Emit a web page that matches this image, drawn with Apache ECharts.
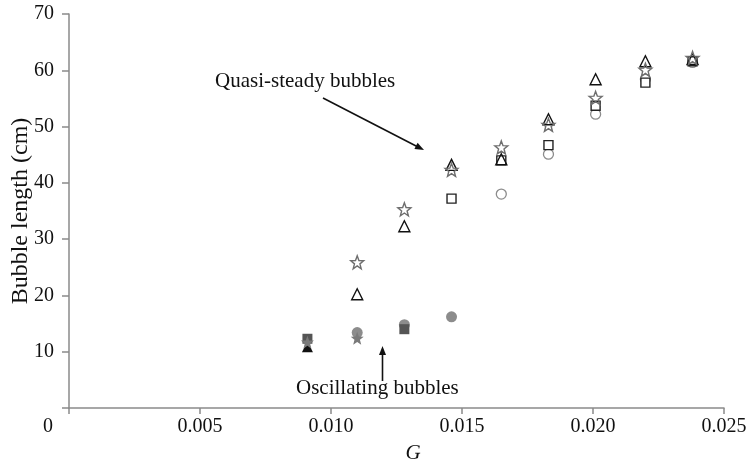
<!DOCTYPE html>
<html>
<head>
<meta charset="utf-8">
<script src="https://cdn.jsdelivr.net/npm/echarts@6/dist/echarts.min.js"></script>
<style>
html,body{margin:0;padding:0;background:#fff;}
#chart{width:747px;height:462px;}
</style>
</head>
<body>
<div id="chart"></div>
<script>
// Data (G, bubble length cm)
var oscTriangle = [[0.0091, 10.9]];
var oscStar = [[0.0091, 11.7], [0.0110, 12.4]];
var oscSquare = [[0.0091, 12.3], [0.0128, 14.0]];
var oscCircle = [[0.0110, 13.4], [0.0128, 14.8], [0.0146, 16.2]];

var qsTriangle = [[0.0110, 20.2], [0.0128, 32.3], [0.0146, 43.2], [0.0165, 44.2], [0.0183, 51.3], [0.0201, 58.4], [0.0220, 61.6], [0.0238, 62.0]];
var qsStar = [[0.0110, 25.9], [0.0128, 35.3], [0.0146, 42.3], [0.0165, 46.3], [0.0183, 50.3], [0.0201, 55.1], [0.0220, 60.1], [0.0238, 62.2]];
var qsSquare = [[0.0146, 37.2], [0.0165, 44.0], [0.0183, 46.7], [0.0201, 53.7], [0.0220, 57.8], [0.0238, 61.6]];
var qsCircle = [[0.0165, 38.0], [0.0183, 45.1], [0.0201, 52.2], [0.0220, 58.4], [0.0238, 61.4]];

var xTicks = ['0', '0.005', '0.010', '0.015', '0.020', '0.025'];
var yTicks = ['0', '10', '20', '30', '40', '50', '60', '70'];

var STAR = 'path://M100,0 L124.7,66 L195.1,69.1 L139.9,113 L158.8,180.9 L100,142 L41.2,180.9 L60.1,113 L4.9,69.1 L75.3,66 Z';
var FONT = 'Liberation Serif';
var AXIS = '#8a8a8a';

function sc(name, data, symbol, size, fill, stroke, bw) {
  return {
    name: name, type: 'scatter', data: data, symbol: symbol, symbolSize: size,
    itemStyle: { color: fill, borderColor: stroke, borderWidth: bw, opacity: 1 },
    emphasis: { disabled: true }, z: 3
  };
}

var chart = echarts.init(document.getElementById('chart'), null, { renderer: 'canvas' });
chart.setOption({
  animation: false,
  backgroundColor: '#ffffff',
  grid: { left: 69, right: 23, top: 14, bottom: 54, containLabel: false, outerBoundsMode: 'none' },
  xAxis: {
    type: 'value', min: 0, max: 0.025, interval: 0.005,
    name: 'G', nameLocation: 'middle', nameGap: 35, nameMoveOverlap: false,
    nameTextStyle: { fontFamily: FONT, fontStyle: 'italic', fontSize: 21, color: '#111', padding: [0, 0, 0, 33] },
    axisLine: { show: true, onZero: false, lineStyle: { color: AXIS, width: 1.5 } },
    axisTick: { show: true, length: 6, lineStyle: { color: AXIS, width: 1.5 } },
    axisLabel: {
      fontFamily: FONT, fontSize: 20, color: '#111', margin: 9,
      formatter: function (v) { var i = Math.round(v / 0.005); return i === 0 ? '' : xTicks[i]; }
    },
    splitLine: { show: false }
  },
  yAxis: {
    type: 'value', min: 0, max: 70, interval: 10,
    name: 'Bubble length (cm)', nameLocation: 'middle', nameGap: 36, nameMoveOverlap: false,
    nameTextStyle: { fontFamily: FONT, fontSize: 24, color: '#111' },
    axisLine: { show: true, lineStyle: { color: AXIS, width: 1.5 } },
    axisTick: { show: true, length: 7, lineStyle: { color: AXIS, width: 1.5 } },
    axisLabel: {
      fontFamily: FONT, fontSize: 20, color: '#111', margin: 15,
      formatter: function (v) { var i = Math.round(v / 10); return i === 0 ? '' : yTicks[i]; }
    },
    splitLine: { show: false }
  },
  series: [
    sc('Quasi-steady circle', qsCircle, 'circle', 10, '#ffffff', '#8c8c8c', 1.3),
    sc('Quasi-steady square', qsSquare, 'rect', 9, '#ffffff', '#222222', 1.4),
    sc('Quasi-steady triangle', qsTriangle, 'triangle', 11, 'rgba(255,255,255,0)', '#111111', 1.4),
    sc('Quasi-steady star', qsStar, STAR, 13, 'rgba(255,255,255,0)', '#6e6e6e', 1.4),
    sc('Oscillating circle', oscCircle, 'circle', 11, '#8c8c8c', '#8c8c8c', 0),
    sc('Oscillating square', oscSquare, 'rect', 10, '#555555', '#555555', 0),
    sc('Oscillating triangle', oscTriangle, 'triangle', 11, '#111111', '#111111', 0),
    sc('Oscillating star', oscStar, STAR, 13, '#7a7a7a', '#7a7a7a', 0)
  ],
  graphic: [
    { type: 'text', left: 43, top: 417, style: { text: '0', font: '20px "Liberation Serif"', fill: '#111' } },
    { type: 'text', x: 215, y: 81, style: { text: 'Quasi-steady bubbles', font: '21px "Liberation Serif"', fill: '#111', textVerticalAlign: 'middle' } },
    { type: 'line', shape: { x1: 323, y1: 98, x2: 418, y2: 147 }, style: { stroke: '#111', lineWidth: 1.6 } },
    { type: 'polygon', shape: { points: [[424, 150], [414.4, 149], [417.6, 142.8]] }, style: { fill: '#111' } },
    { type: 'text', x: 296, y: 388, style: { text: 'Oscillating bubbles', font: '21px "Liberation Serif"', fill: '#111', textVerticalAlign: 'middle' } },
    { type: 'line', shape: { x1: 382.5, y1: 381, x2: 382.5, y2: 353 }, style: { stroke: '#111', lineWidth: 1.6 } },
    { type: 'polygon', shape: { points: [[382.5, 346], [379, 355], [386, 355]] }, style: { fill: '#111' } }
  ]
});
</script>
</body>
</html>
